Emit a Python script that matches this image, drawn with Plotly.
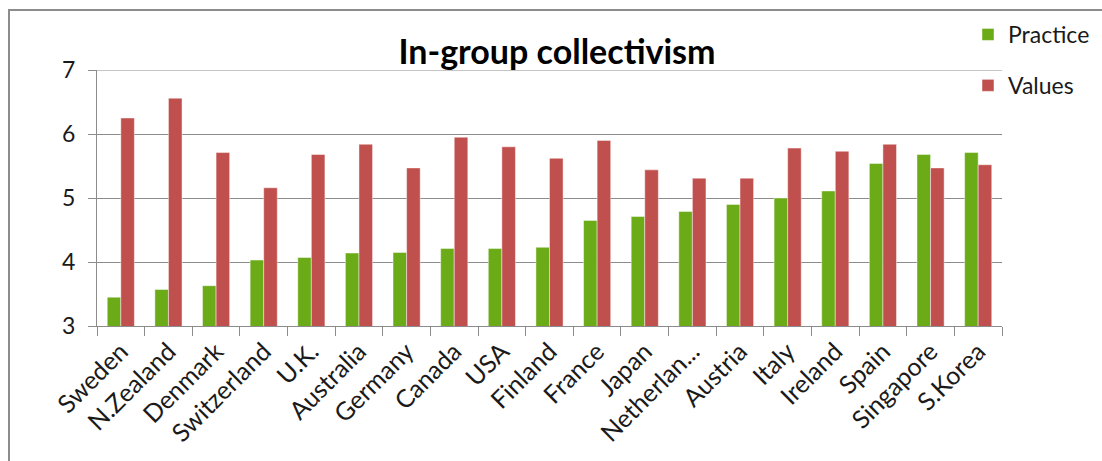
import plotly.graph_objects as go

countries = ["Sweden", "N.Zealand", "Denmark", "Switzerland", "U.K.", "Australia",
             "Germany", "Canada", "USA", "Finland", "France", "Japan", "Netherlan...",
             "Austria", "Italy", "Ireland", "Spain", "Singapore", "S.Korea"]
practice = [3.45, 3.57, 3.63, 4.03, 4.07, 4.14, 4.15, 4.21, 4.21, 4.23,
            4.65, 4.71, 4.79, 4.90, 5.00, 5.11, 5.54, 5.68, 5.71]
values = [6.25, 6.56, 5.71, 5.16, 5.68, 5.84, 5.47, 5.95, 5.80, 5.62,
          5.90, 5.44, 5.31, 5.31, 5.78, 5.73, 5.84, 5.47, 5.52]

GREEN = "#6BAB17"
RED = "#C0504D"
GRID = "#8C8C8C"
FONT = "Lato"
Y_MIN, Y_MAX = 3, 7

W, H = 1102, 461
L, R, T, B = 97, 100, 70, 135
pw, ph = W - L - R, H - T - B


def px_x(x):
    return (x - L) / pw


def px_y(y):
    return (H - B - y) / ph


fig = go.Figure()
fig.add_trace(go.Bar(
    x=countries, y=practice, name="Practice", legendgroup="p",
    marker=dict(color=GREEN, line=dict(color="rgba(255,255,255,0.45)", width=1)),
))
fig.add_trace(go.Bar(
    x=countries, y=values, name="Values", legendgroup="v",
    marker=dict(color=RED, line=dict(color="rgba(255,255,255,0.45)", width=1)),
))

fig.update_layout(
    width=W, height=H,
    margin=dict(l=L, r=R, t=T, b=B, pad=0, autoexpand=False),
    paper_bgcolor="white", plot_bgcolor="white",
    barmode="group", bargap=0.43, bargroupgap=0,
    font=dict(family=FONT, color="#1a1a1a"),
    title=dict(text="<b>In-group collectivism</b>", font=dict(family=FONT, size=34, color="#000000"),
               x=557 / W, xref="container", xanchor="center",
               y=1 - 52 / H, yref="container", yanchor="middle"),
    legend=dict(x=968 / W, y=1 - 13 / H, xref="container", yref="container",
                xanchor="left", yanchor="top",
                font=dict(family=FONT, size=23, color="#1a1a1a"),
                traceorder="grouped", tracegroupgap=18, bgcolor="rgba(0,0,0,0)"),
    showlegend=True,
)

fig.update_yaxes(
    range=[Y_MIN, Y_MAX], dtick=1, showgrid=True, gridcolor=GRID, gridwidth=1,
    showline=True, linecolor=GRID, linewidth=1,
    ticks="outside", ticklen=8, tickcolor=GRID, tickwidth=1,
    tickfont=dict(family=FONT, size=23, color="#1a1a1a"), ticklabelstandoff=8,
    zeroline=False, fixedrange=True, automargin=False,
)
fig.update_xaxes(
    type="category", showgrid=False, showline=True, linecolor=GRID, linewidth=1,
    ticks="outside", ticklen=9, tickcolor=GRID, tickwidth=1, tickson="boundaries",
    tickangle=-45, tickfont=dict(family=FONT, size=25, color="#1a1a1a"),
    fixedrange=True, automargin=False,
)

# top gridline at the upper end of the value axis
fig.add_shape(type="line", xref="paper", yref="y", x0=0, x1=1, y0=Y_MAX, y1=Y_MAX,
              line=dict(color=GRID, width=1), layer="below")

# frame around the chart area (left and top edges)
fig.add_shape(type="path", xref="paper", yref="paper",
              path=f"M {px_x(9)} {px_y(470)} L {px_x(9)} {px_y(10)} L {px_x(1110)} {px_y(10)}",
              line=dict(color="#8C8C8C", width=2), layer="above")

fig.write_html("out.html")
